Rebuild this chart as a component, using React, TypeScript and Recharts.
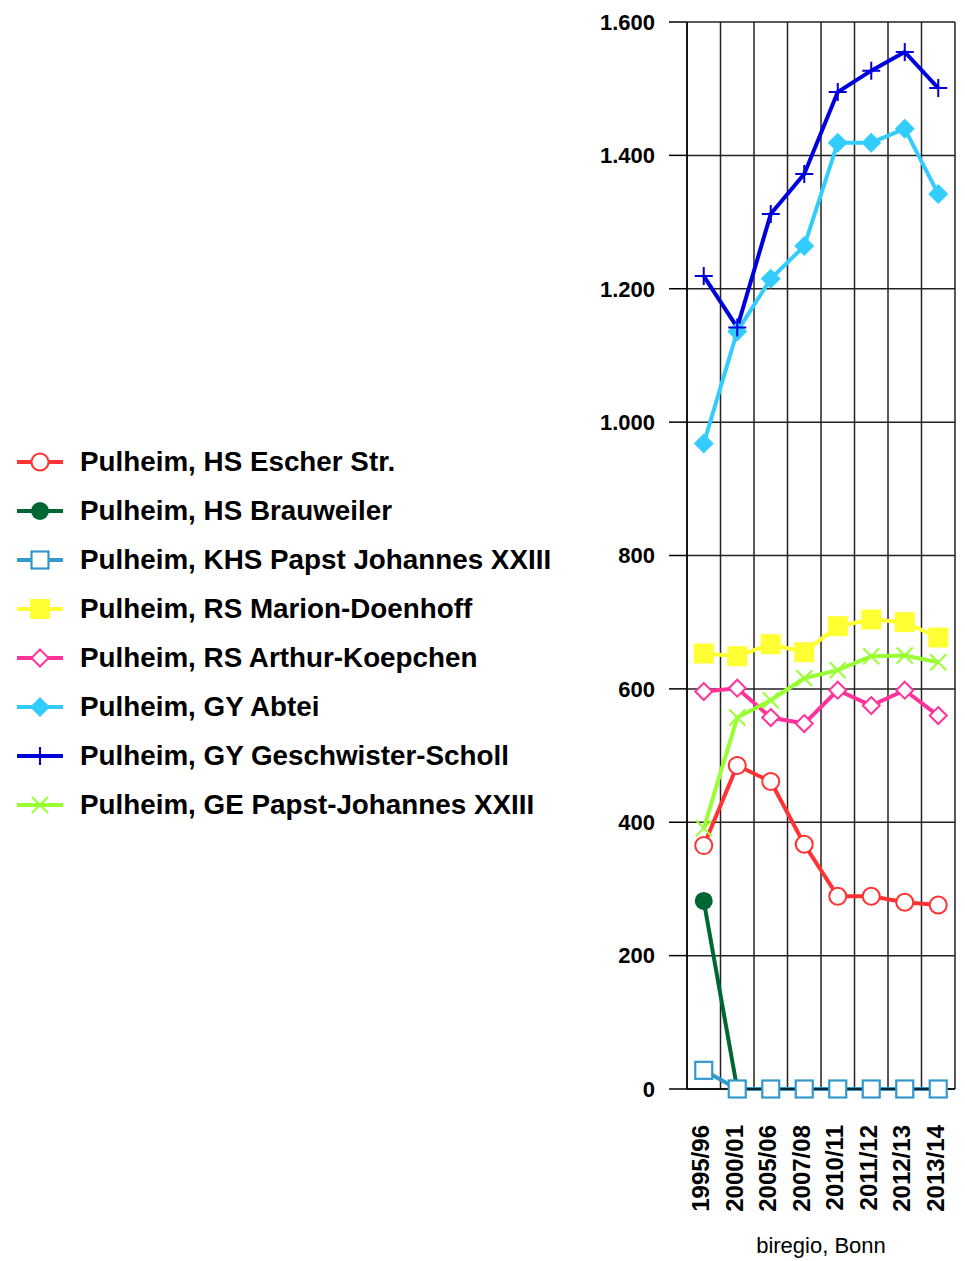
import { LineChart, Line, XAxis, YAxis, CartesianGrid } from 'recharts';

const categories = ['1995/96', '2000/01', '2005/06', '2007/08', '2010/11', '2011/12', '2012/13', '2013/14'];

const escher = [365, 485, 461, 367, 289, 289, 280, 276];
const brauweiler = [282, 0, null, null, null, null, null, null];
const khs = [28, 0, 0, 0, 0, 0, 0, 0];
const marion = [653, 649, 667, 655, 694, 704, 700, 677];
const arthur = [596, 601, 557, 548, 598, 575, 598, 560];
const abtei = [968, 1136, 1215, 1264, 1419, 1419, 1440, 1342];
const geschwister = [1219, 1142, 1312, 1372, 1495, 1527, 1555, 1501];
const gesamtschule = [391, 557, 583, 616, 628, 649, 650, 640];

const yTicks = [0, 200, 400, 600, 800, 1000, 1200, 1400, 1600];
const xTicks = [0, 1, 2, 3, 4, 5, 6, 7];
const gridX = [-0.5, 0.5, 1.5, 2.5, 3.5, 4.5, 5.5, 6.5, 7.5];

const series = [
  { key: 'escher', name: 'Pulheim, HS Escher Str.', values: escher, color: '#ff3333', shape: 'circleOpen' },
  { key: 'brauweiler', name: 'Pulheim, HS Brauweiler', values: brauweiler, color: '#006633', shape: 'circle' },
  { key: 'khs', name: 'Pulheim, KHS Papst Johannes XXIII', values: khs, color: '#3399cc', shape: 'squareOpen' },
  { key: 'marion', name: 'Pulheim, RS Marion-Doenhoff', values: marion, color: '#ffff33', shape: 'square' },
  { key: 'arthur', name: 'Pulheim, RS Arthur-Koepchen', values: arthur, color: '#ff3399', shape: 'diamondOpen' },
  { key: 'abtei', name: 'Pulheim, GY Abtei', values: abtei, color: '#33ccff', shape: 'diamond' },
  { key: 'geschwister', name: 'Pulheim, GY Geschwister-Scholl', values: geschwister, color: '#0000dd', shape: 'plus' },
  { key: 'gesamtschule', name: 'Pulheim, GE Papst-Johannes XXIII', values: gesamtschule, color: '#99ff33', shape: 'cross' },
];

const data = categories.map((c, i) => {
  const row: Record<string, number | string | null> = { i, label: c };
  series.forEach((s) => { row[s.key] = s.values[i]; });
  return row;
});

const FONT = '"Liberation Sans", Arial, sans-serif';

function marker(shape: string, cx: number, cy: number, color: string) {
  switch (shape) {
    case 'circleOpen':
      return <circle cx={cx} cy={cy} r={8.5} fill="#fff" stroke={color} strokeWidth={2} />;
    case 'circle':
      return <circle cx={cx} cy={cy} r={9} fill={color} />;
    case 'squareOpen':
      return <rect x={cx - 8.5} y={cy - 8.5} width={17} height={17} fill="#fff" stroke={color} strokeWidth={2.2} />;
    case 'square':
      return <rect x={cx - 10} y={cy - 10} width={20} height={20} fill={color} />;
    case 'diamondOpen':
      return <path d={`M${cx},${cy - 8.5}L${cx + 8.5},${cy}L${cx},${cy + 8.5}L${cx - 8.5},${cy}Z`} fill="#fff" stroke={color} strokeWidth={2} />;
    case 'diamond':
      return <path d={`M${cx},${cy - 10}L${cx + 10},${cy}L${cx},${cy + 10}L${cx - 10},${cy}Z`} fill={color} />;
    case 'plus':
      return <path d={`M${cx - 9},${cy}H${cx + 9}M${cx},${cy - 9}V${cy + 9}`} stroke={color} strokeWidth={2} fill="none" />;
    default:
      return <path d={`M${cx - 8},${cy - 8}L${cx + 8},${cy + 8}M${cx + 8},${cy - 8}L${cx - 8},${cy + 8}`} stroke={color} strokeWidth={2} fill="none" />;
  }
}

const makeDot = (shape: string, color: string) => (props: any) => {
  const { cx, cy, value, index } = props;
  if (value == null || cx == null || cy == null) return <g key={`d-${index}`} />;
  return <g key={`d-${index}`}>{marker(shape, cx, cy, color)}</g>;
};

const XTick = (props: any) => {
  const { x, y, payload } = props;
  const ty = y + 28;
  return (
    <text
      x={x - 3}
      y={ty}
      transform={`rotate(-90 ${x - 3} ${ty})`}
      textAnchor="end"
      dominantBaseline="central"
      fontFamily={FONT}
      fontWeight="bold"
      fontSize={24}
      fill="#000"
    >
      {categories[payload.value]}
    </text>
  );
};

const fmt = (v: number) => v.toLocaleString('de-DE');

export default function App() {
  return (
    <div style={{ position: 'absolute', left: 0, top: 0, width: 965, height: 1261, background: '#fff' }}>
      <LineChart width={965} height={1261} data={data} margin={{ top: 22, right: 10, bottom: 0, left: 0 }}>
        <CartesianGrid stroke="#222" strokeWidth={1.5} verticalValues={gridX} />
        <XAxis
          type="number"
          dataKey="i"
          domain={[-0.5, 7.5]}
          ticks={xTicks}
          interval={0}
          height={172}
          tickLine={false}
          axisLine={{ stroke: '#000', strokeWidth: 1.5 }}
          tick={<XTick />}
          label={{ value: 'biregio, Bonn', position: 'insideBottom', offset: 8, fill: '#000', fontSize: 22, fontFamily: FONT }}
        />
        <YAxis
          width={687}
          domain={[0, 1600]}
          ticks={yTicks}
          interval={0}
          tickFormatter={fmt}
          tickSize={18}
          tickMargin={14}
          tickLine={{ stroke: '#000', strokeWidth: 1.5 }}
          axisLine={{ stroke: '#000', strokeWidth: 1.5 }}
          tick={{ fill: '#000', fontSize: 22, fontWeight: 'bold', fontFamily: FONT }}
        />
        {series.map((s) => (
          <Line
            key={s.key}
            type="linear"
            dataKey={s.key}
            stroke={s.color}
            strokeWidth={4}
            dot={makeDot(s.shape, s.color)}
            activeDot={false}
            isAnimationActive={false}
          />
        ))}
      </LineChart>
      {series.map((s, i) => (
        <div
          key={s.key}
          style={{ position: 'absolute', left: 0, top: 462 + i * 49 - 20, height: 40, display: 'flex', alignItems: 'center' }}
        >
          <svg width={80} height={40} style={{ display: 'block' }}>
            <line x1={17} y1={20} x2={63} y2={20} stroke={s.color} strokeWidth={4} />
            {marker(s.shape, 40, 20, s.color)}
          </svg>
          <span style={{ fontFamily: FONT, fontWeight: 'bold', fontSize: 27.8, color: '#000', whiteSpace: 'nowrap' }}>{s.name}</span>
        </div>
      ))}
    </div>
  );
}
